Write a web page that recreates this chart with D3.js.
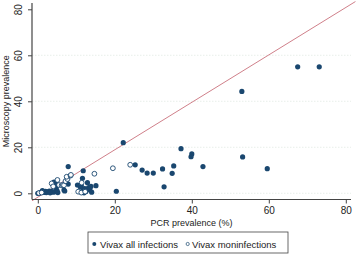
<!DOCTYPE html>
<html><head><meta charset="utf-8">
<script src="https://cdn.jsdelivr.net/npm/d3@7"></script>
<style>body{margin:0;background:#fff}svg{display:block;font-family:"Liberation Sans",Arial,sans-serif}</style>
</head><body><div id="chart"></div>
<script>
const xTicks = [0, 20, 40, 60, 80];
const yTicks = [0, 20, 40, 60, 80];
const gridValues = [0, 20, 40, 60];
const seriesNames = ["Vivax all infections", "Vivax moninfections"];
const allInfections = [
[0,0],[0.5,0.2],[1,0.5],[1.5,0.4],[2,0.8],[2.5,0.6],[3,1.0],[3.5,0.8],[4,0.5],[4.5,0.7],[5,1.0],[1.2,1.2],[2.2,0.3],[3.2,0.2],
[4.2,4.9],[4.4,3.7],[4.7,4.6],[4.8,2.9],[4.9,1.4],[5.2,0.3],[6.8,1.4],[7.0,1.0],[7.4,4.3],[7.9,4.0],[7.9,11.6],
[10.3,3.6],[11,2.9],[11.3,3.3],[11.6,6.5],[11.7,1.4],[11.8,9.8],[12.2,2.0],[12.5,0.8],[12.9,4.6],[13.2,2.5],[13.5,1.5],[13.8,3.0],[12.0,0.2],[14.0,0.5],[15.1,3.3],
[20.4,0.9],[22.2,22.0],[25.3,12.4],[27.1,10.1],[28.4,8.8],[30.0,8.8],[32.4,10.6],[32.8,2.8],[34.9,8.7],[35.3,11.9],[37.2,19.4],[40.0,17.1],[39.8,15.9],[42.9,11.6],[53.0,44.3],[53.2,15.8],[59.6,10.7],[67.5,55],[73.1,55]
];
const monoInfections = [
[0.3,0.1],[1.0,0.3],[3.6,4.3],[4.0,3.0],[5.1,5.8],[5.5,3.6],[6.2,3.5],[6.5,3.6],[6.8,3.5],[7.2,5.3],[7.7,6.2],[7.5,7.2],[8.5,7.7],[8.6,8.0],
[10.5,0.7],[11.3,0.3],[11.4,4.6],[12.3,0.7],[14.7,8.5],[19.5,10.9],[24.0,12.4]
];
const refLine = [[-1.5,-1.5],[82.5,82.5]];

const W = 359, H = 254;
const navy = "#1a476f";
const svg = d3.select("#chart").append("svg").attr("width", W).attr("height", H);

const x = d3.scaleLinear().domain([0, 80]).range([37.8, 345.8]);
const y = d3.scaleLinear().domain([0, 80]).range([193.3, 9.3]);
const plotL = 32, plotR = 351, plotT = 3, plotB = 199.5;

svg.append("g").selectAll("line").data(gridValues).join("line")
  .attr("x1", plotL).attr("x2", plotR)
  .attr("y1", d => y(d)).attr("y2", d => y(d))
  .attr("stroke", "#e3ebe5").attr("stroke-width", 0.8).attr("stroke-dasharray", "1.5,1.5");

svg.append("line")
  .attr("x1", x(refLine[0][0])).attr("y1", y(refLine[0][1]) + 4)
  .attr("x2", x(refLine[1][0])).attr("y2", y(refLine[1][1]) - 2)
  .attr("stroke", "#d0808a").attr("stroke-width", 1);

const yAxis = d3.axisLeft(y).tickValues(yTicks).tickSize(4).tickPadding(3);
const gy = svg.append("g").attr("transform", `translate(${plotL},0)`).call(yAxis);
gy.attr("font-family", null);
gy.select(".domain").attr("d", `M0,${plotT}V${plotB}`).attr("stroke", "#444").attr("stroke-width", 1.2);
gy.selectAll(".tick line").attr("stroke", "#444");
gy.selectAll(".tick text").attr("transform", "rotate(-90)").attr("x", 0).attr("y", -10)
  .attr("dy", "0").attr("text-anchor", "middle").style("font-size", "10px").attr("fill", "#222");

const xAxis = d3.axisBottom(x).tickValues(xTicks).tickSize(4).tickPadding(3);
const gx = svg.append("g").attr("transform", `translate(0,${plotB})`).call(xAxis);
gx.attr("font-family", null);
gx.select(".domain").attr("d", `M${plotL},0H${plotR}`).attr("stroke", "#444").attr("stroke-width", 1.2);
gx.selectAll(".tick line").attr("stroke", "#444");
gx.selectAll(".tick text").style("font-size", "10px").attr("fill", "#222");

svg.append("g").selectAll("circle").data(allInfections).join("circle")
  .attr("cx", d => x(d[0])).attr("cy", d => y(d[1])).attr("r", 2.6).attr("fill", navy);
svg.append("g").selectAll("circle").data(monoInfections).join("circle")
  .attr("cx", d => x(d[0])).attr("cy", d => y(d[1])).attr("r", 2.4)
  .attr("fill", "#fff").attr("stroke", navy).attr("stroke-width", 0.9);

svg.append("text").attr("x", (plotL + plotR) / 2).attr("y", 226).attr("text-anchor", "middle")
  .style("font-size", "9px").attr("fill", "#222").text("PCR prevalence (%)");
svg.append("text").attr("transform", `translate(8.5,${(plotT + plotB) / 2}) rotate(-90)`)
  .attr("text-anchor", "middle").style("font-size", "9px").attr("fill", "#222").text("Microscopy prevalence");

const lg = svg.append("g");
lg.append("rect").attr("x", 88).attr("y", 232).attr("width", 200).attr("height", 21)
  .attr("fill", "#fff").attr("stroke", "#444").attr("stroke-width", 0.8);
lg.append("circle").attr("cx", 94.3).attr("cy", 244).attr("r", 2).attr("fill", navy);
lg.append("text").attr("x", 100).attr("y", 247.5).style("font-size", "9.5px").attr("fill", "#222").text(seriesNames[0]);
lg.append("circle").attr("cx", 187.7).attr("cy", 244).attr("r", 1.6).attr("fill", "#fff").attr("stroke", navy).attr("stroke-width", 0.7);
lg.append("text").attr("x", 192).attr("y", 247.5).style("font-size", "9.5px").attr("fill", "#222").text(seriesNames[1]);
</script></body></html>
